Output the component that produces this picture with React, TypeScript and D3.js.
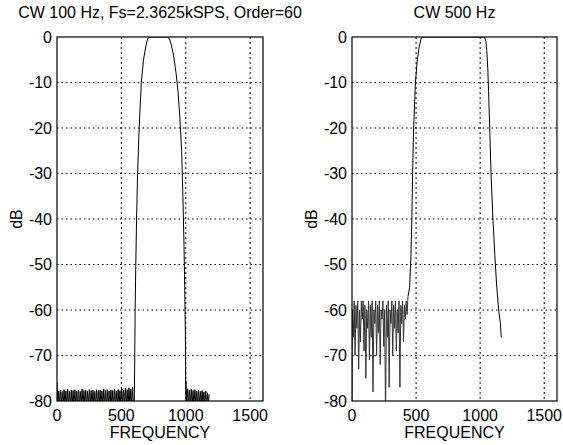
import * as d3 from "d3";

const freqTicks = [0, 500, 1000, 1500];
const dbTicks = [0, -10, -20, -30, -40, -50, -60, -70, -80];
const gridX = [500, 1000, 1500];
const gridY = [-10, -20, -30, -40, -50, -60, -70];

// CW 100 Hz filter: lower stopband ripple, main lobe, upper stopband ripple
const cw100Stop1: [number, number][] = [
  [0, -76], [6, -81], [13, -77.8], [20, -81], [27, -77.6], [34, -81], [41, -77.9], [48, -81],
  [55, -77.5], [62, -81], [69, -77.8], [76, -81], [83, -77.4], [90, -81], [97, -77.9], [104, -81],
  [111, -77.6], [118, -81], [125, -77.7], [132, -81], [139, -77.5], [146, -81], [153, -77.8], [160, -81],
  [167, -77.6], [174, -81], [181, -77.9], [188, -81], [195, -77.4], [202, -81], [209, -77.7], [216, -81],
  [223, -77.6], [230, -81], [237, -77.8], [244, -81], [251, -77.5], [258, -81], [265, -77.7], [272, -81],
  [279, -77.6], [286, -81], [293, -77.9], [300, -81], [307, -77.5], [314, -81], [321, -77.7], [328, -81],
  [335, -77.6], [342, -81], [349, -77.8], [356, -81], [363, -77.4], [370, -81], [377, -77.7], [384, -81],
  [391, -77.5], [398, -81], [405, -77.8], [412, -81], [419, -77.6], [426, -81], [433, -77.7], [440, -81],
  [447, -77.4], [454, -81], [461, -77.8], [468, -81], [475, -77.5], [482, -81], [489, -77.7], [496, -81],
  [503, -77.3], [510, -81], [517, -77.6], [524, -81], [531, -77.2], [538, -81], [545, -77.5], [552, -81],
  [559, -77.1], [566, -81], [573, -77.4], [580, -81], [587, -77.0], [594, -81],
];
const cw100Main: [number, number][] = [
  [600, -81], [604, -70], [607, -60], [612, -50], [618, -40], [626, -30], [638, -20], [655, -10],
  [672, -5], [690, -2], [705, -0.3], [720, 0], [860, 0], [875, -0.5], [890, -2], [905, -4],
  [925, -8], [940, -12], [955, -18], [968, -25], [978, -35], [986, -45], [992, -55], [997, -65],
  [1001, -81],
];
const cw100Stop2: [number, number][] = [
  [1002, -75.5], [1008, -81], [1015, -77.3], [1022, -81], [1029, -77.6], [1036, -81], [1043, -77.4],
  [1050, -81], [1057, -77.7], [1064, -81], [1071, -77.5], [1078, -81], [1085, -77.8], [1092, -81],
  [1099, -77.6], [1106, -81], [1113, -77.9], [1120, -81], [1127, -77.7], [1134, -81], [1141, -78.0],
  [1148, -81], [1155, -77.8], [1162, -81], [1169, -78.2], [1176, -81], [1181, -78.5],
];

// CW 500 Hz filter: noisy lower stopband, main lobe, upper skirt
const cw500Stop: [number, number][] = [
  [0, -82], [3, -60], [10, -66], [17, -58], [24, -70], [31, -59], [38, -64], [45, -58],
  [52, -73], [59, -60], [66, -67], [73, -58], [80, -62], [87, -58], [94, -69], [101, -59],
  [108, -75], [115, -60], [122, -64], [129, -58], [136, -71], [143, -59], [150, -66], [157, -58],
  [164, -78], [171, -60], [178, -63], [185, -58], [192, -70], [199, -59], [206, -65], [213, -58],
  [220, -72], [227, -60], [234, -62], [241, -58], [248, -68], [255, -60], [262, -85], [269, -59],
  [276, -66], [283, -58], [290, -77], [297, -60], [304, -63], [311, -58], [318, -70], [325, -59],
  [332, -64], [339, -58], [346, -69], [353, -60], [360, -65], [367, -58], [374, -77], [381, -59],
  [388, -63], [395, -58], [402, -67], [409, -59], [416, -62], [423, -58], [430, -61], [437, -57],
];
const cw500Main: [number, number][] = [
  [437, -57], [450, -55], [460, -48], [467, -40], [473, -30], [481, -20], [495, -10], [510, -5],
  [525, -2], [540, -0.3], [550, 0], [1035, 0], [1045, -1], [1052, -3], [1060, -7], [1066, -12],
  [1075, -20], [1085, -30], [1100, -40], [1115, -48], [1130, -55], [1145, -60], [1158, -63], [1165, -66],
];

const panels = [
  {
    title: "CW 100 Hz, Fs=2.3625kSPS, Order=60",
    left: 57,
    right: 263,
    series: [cw100Stop1, cw100Main, cw100Stop2],
    colors: ["#000", "#000", "#000"],
  },
  {
    title: "CW 500 Hz",
    left: 352,
    right: 557,
    series: [cw500Stop, cw500Main],
    colors: ["#333", "#000"],
  },
];

const TOP = 37;
const BOTTOM = 401;
const FONT = "'Liberation Sans', Arial, Helvetica, sans-serif";

function Panel({ p, idx }: { p: (typeof panels)[number]; idx: number }) {
  const x = d3.scaleLinear().domain([0, 1600]).range([p.left, p.right]);
  const y = d3.scaleLinear().domain([-80, 0]).range([BOTTOM, TOP]);
  const line = d3
    .line<[number, number]>()
    .x((d) => x(d[0]))
    .y((d) => y(d[1]));
  const clipId = `clip-${idx}`;
  const midX = (p.left + p.right) / 2;
  return (
    <g>
      <defs>
        <clipPath id={clipId}>
          <rect x={p.left} y={TOP} width={p.right - p.left} height={BOTTOM - TOP} />
        </clipPath>
      </defs>
      {gridX.map((v) => (
        <line
          key={`gx${v}`}
          x1={x(v)}
          x2={x(v)}
          y1={TOP}
          y2={BOTTOM}
          stroke="#000"
          strokeWidth={1}
          strokeDasharray="2,3"
        />
      ))}
      {gridY.map((v) => (
        <line
          key={`gy${v}`}
          x1={p.left}
          x2={p.right}
          y1={y(v)}
          y2={y(v)}
          stroke="#000"
          strokeWidth={1}
          strokeDasharray="1.5,3"
        />
      ))}
      <g clipPath={`url(#${clipId})`}>
        {p.series.map((s, i) => (
          <path key={i} d={line(s) ?? ""} fill="none" stroke={p.colors[i]} strokeWidth={1} />
        ))}
      </g>
      <rect
        x={p.left}
        y={TOP}
        width={p.right - p.left}
        height={BOTTOM - TOP}
        fill="none"
        stroke="#000"
        strokeWidth={1.2}
      />
      {dbTicks.map((v) => (
        <text
          key={`yt${v}`}
          x={p.left - 5}
          y={y(v)}
          dy="0.35em"
          textAnchor="end"
          fontSize={16}
          fontFamily={FONT}
        >
          {v}
        </text>
      ))}
      {freqTicks.map((v) => (
        <text
          key={`xt${v}`}
          x={x(v)}
          y={BOTTOM + 20}
          textAnchor="middle"
          fontSize={16}
          fontFamily={FONT}
        >
          {v}
        </text>
      ))}
      <text x={midX} y={BOTTOM + 37} textAnchor="middle" fontSize={16} fontFamily={FONT}>
        FREQUENCY
      </text>
      <text
        transform={`translate(${p.left - 35},${(TOP + BOTTOM) / 2}) rotate(-90)`}
        textAnchor="middle"
        fontSize={16}
        fontFamily={FONT}
      >
        dB
      </text>
      <text x={midX} y={18} textAnchor="middle" fontSize={16} fontFamily={FONT}>
        {p.title}
      </text>
    </g>
  );
}

export default function App() {
  return (
    <svg
      width={563}
      height={445}
      style={{ position: "absolute", left: 0, top: 0, background: "#fff" }}
    >
      {panels.map((p, i) => (
        <Panel key={i} p={p} idx={i} />
      ))}
    </svg>
  );
}
